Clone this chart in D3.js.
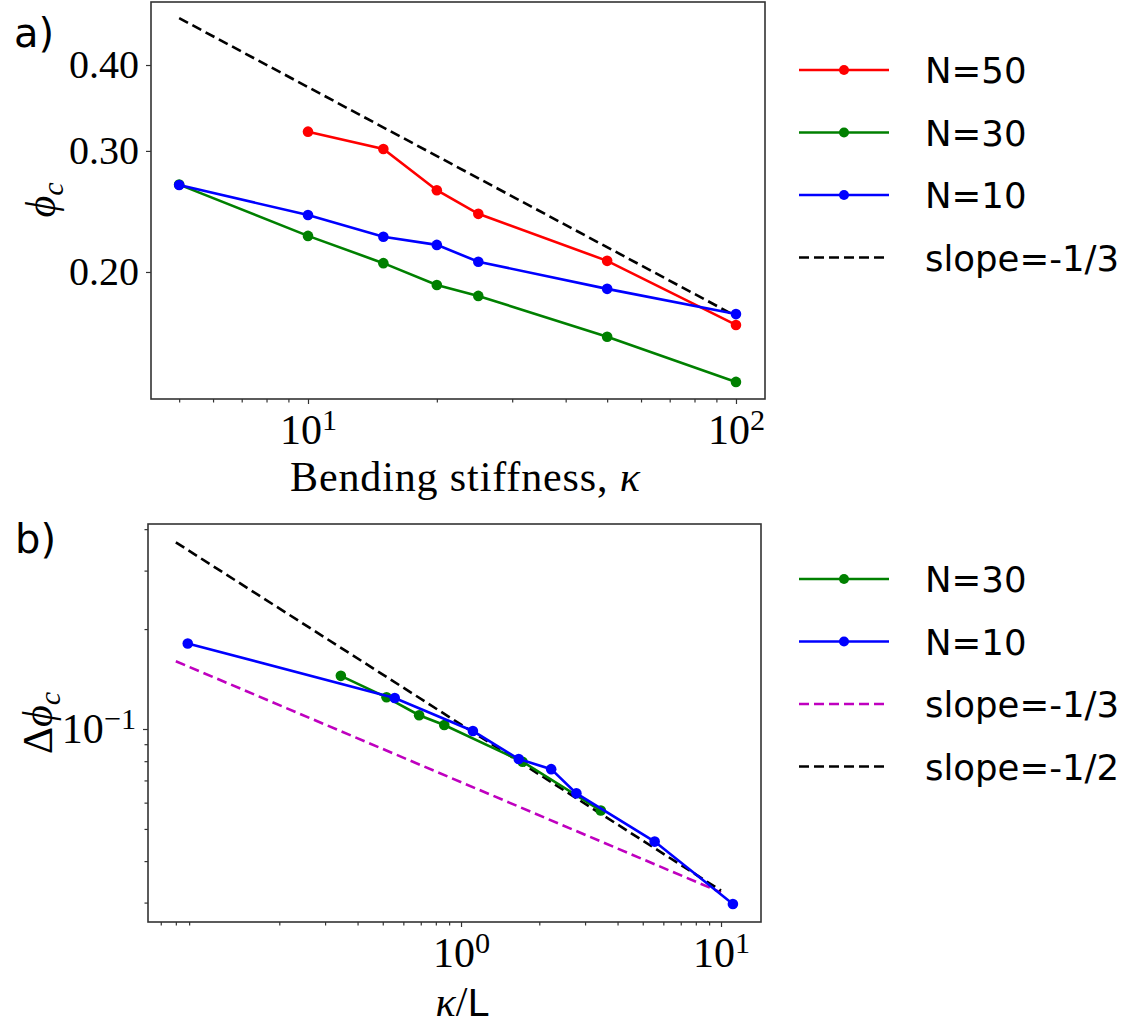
<!DOCTYPE html>
<meta charset="utf-8">
<style>
    body { margin: 0; background: #fff; }
    .tick line { stroke: #333; stroke-width: 1.2; }
    .serif { font-family: "Liberation Serif", serif; }
    .sans { font-family: "DejaVu Sans", sans-serif; }
</style>
<body>
<script src="https://d3js.org/d3.v7.min.js"></script>
<script>

// ---- panel a) data : phi_c vs bending stiffness kappa
var kappa = [5, 10, 15, 20, 25, 50, 100];
var kappaN50 = [10, 15, 20, 25, 50, 100];
var phiN50 = [0.320, 0.302, 0.263, 0.243, 0.2076, 0.1675];
var phiN30 = [0.268, 0.2257, 0.206, 0.1915, 0.1846, 0.161, 0.1384];
var phiN10 = [0.2676, 0.242, 0.225, 0.219, 0.207, 0.189, 0.1737];
var slopeAX = [5, 100];
var slopeAY = [0.468, 0.1725];

// ---- panel b) data : delta phi_c vs kappa/L
var kLN30 = [0.345, 0.517, 0.690, 0.862, 1.724, 3.448];
var dphiN30 = [0.1446, 0.1246, 0.110, 0.1028, 0.0797, 0.0568];
var kLN10 = [0.0889, 0.556, 1.111, 1.667, 2.222, 2.778, 5.556, 11.11];
var dphiN10 = [0.181, 0.124, 0.0986, 0.0812, 0.0757, 0.064, 0.0458, 0.0297];
var slopeThirdX = [0.08, 10];
var slopeThirdY = [0.160, 0.0322];
var slopeHalfX = [0.08, 10];
var slopeHalfY = [0.365, 0.0326];

// ticks
var aXMajor = [10, 100];
var aXMinor = [5, 6, 7, 8, 9, 20, 30, 40, 50, 60, 70, 80, 90];
var aYTicks = [0.2, 0.3, 0.4];
var bXMajor = [1, 10];
var bXMinor = [0.07, 0.08, 0.09, 0.2, 0.3, 0.4, 0.5, 0.6, 0.7, 0.8, 0.9, 2, 3, 4, 5, 6, 7, 8, 9];
var bYMajor = [0.1];
var bYMinor = [0.03, 0.04, 0.05, 0.06, 0.07, 0.08, 0.09, 0.2, 0.3, 0.4];

var svg = d3.select("body").append("svg")
    .attr("width", 1128)
    .attr("height", 1028);

function zip(xs, ys) { return xs.map(function (x, i) { return [x, ys[i]]; }); }

// superscript label 10^n
function powLabel(sel) {
    sel.each(function (d) {
        var t = d3.select(this).text("");
        t.append("tspan").text("10");
        t.append("tspan").attr("dy", "-0.45em").attr("font-size", "0.72em")
            .text(String(Math.round(Math.log10(d))).replace("-", "\u2212"));
    });
}

function frame(g, x, y) {
    g.append("rect")
        .attr("x", x.range()[0]).attr("y", y.range()[1])
        .attr("width", x.range()[1] - x.range()[0])
        .attr("height", y.range()[0] - y.range()[1])
        .attr("fill", "none").attr("stroke", "#333").attr("stroke-width", 1.6);
}

function series(g, x, y, pts, color, marker) {
    var line = d3.line().x(function (d) { return x(d[0]); }).y(function (d) { return y(d[1]); });
    g.append("path").datum(pts)
        .attr("d", line).attr("fill", "none")
        .attr("stroke", color).attr("stroke-width", 2.6);
    if (marker) {
        g.selectAll(null).data(pts).enter().append("circle")
            .attr("cx", function (d) { return x(d[0]); })
            .attr("cy", function (d) { return y(d[1]); })
            .attr("r", 5.3).attr("fill", color);
    }
}

function dashed(g, x, y, pts, color) {
    var line = d3.line().x(function (d) { return x(d[0]); }).y(function (d) { return y(d[1]); });
    g.append("path").datum(pts)
        .attr("d", line).attr("fill", "none")
        .attr("stroke", color).attr("stroke-width", 2.6)
        .attr("stroke-dasharray", "10,5");
}

function legend(g, x0, y0, items) {
    items.forEach(function (it, i) {
        var yy = y0 + i * 62.5;
        var l = g.append("line")
            .attr("x1", x0).attr("x2", x0 + 90).attr("y1", yy).attr("y2", yy)
            .attr("stroke", it.color).attr("stroke-width", 2.6);
        if (it.dash) l.attr("stroke-dasharray", "10,5");
        if (it.marker) g.append("circle").attr("cx", x0 + 45).attr("cy", yy).attr("r", 5).attr("fill", it.color);
        g.append("text").attr("class", "sans")
            .attr("x", x0 + 126).attr("y", yy + 13)
            .attr("font-size", 35.5)
            .text(it.label);
    });
}

// ================= panel a =================
var xa = d3.scaleLog().domain([4.297, 116.9]).range([151, 765]);
var ya = d3.scaleLog().domain([0.1307, 0.494]).range([399, 2]);
var ga = svg.append("g");

ga.append("g").attr("transform", "translate(0,399)")
    .call(d3.axisBottom(xa).tickValues(aXMinor).tickSize(3.5).tickFormat(""))
    .call(function (g) { g.select(".domain").remove(); });
ga.append("g").attr("transform", "translate(0,399)").attr("class", "serif")
    .call(d3.axisBottom(xa).tickValues(aXMajor).tickSize(5).tickPadding(10))
    .call(function (g) { g.select(".domain").remove(); })
    .selectAll(".tick text").attr("font-size", 42).attr("fill", "#000").call(powLabel);

ga.append("g").attr("transform", "translate(151,0)").attr("class", "serif")
    .call(d3.axisLeft(ya).tickValues(aYTicks).tickSize(5).tickPadding(7).tickFormat(d3.format(".2f")))
    .call(function (g) { g.select(".domain").remove(); })
    .selectAll(".tick text").attr("font-size", 40).attr("fill", "#000");

dashed(ga, xa, ya, zip(slopeAX, slopeAY), "#000");
series(ga, xa, ya, zip(kappaN50, phiN50), "#ff0000", true);
series(ga, xa, ya, zip(kappa, phiN30), "#008000", true);
series(ga, xa, ya, zip(kappa, phiN10), "#0000ff", true);
frame(ga, xa, ya);

ga.append("text").attr("class", "serif")
    .attr("x", 465).attr("y", 491).attr("text-anchor", "middle").attr("font-size", 42)
    .attr("textLength", 350).attr("lengthAdjust", "spacing")
    .html('Bending stiffness, <tspan font-style="italic">\u03ba</tspan>');

var yla = ga.append("text").attr("class", "serif")
    .attr("transform", "translate(55,200) rotate(-90)")
    .attr("text-anchor", "middle").attr("font-size", 42);
yla.append("tspan").attr("font-style", "italic").text("\u03d5");
yla.append("tspan").attr("font-style", "italic").attr("font-size", "0.72em").attr("dy", "0.25em").text("c");

ga.append("text").attr("class", "sans").attr("x", 14).attr("y", 47).attr("font-size", 40).text("a)");

legend(ga, 799, 70, [
    { label: "N=50", color: "#ff0000", marker: true },
    { label: "N=30", color: "#008000", marker: true },
    { label: "N=10", color: "#0000ff", marker: true },
    { label: "slope=-1/3", color: "#000", dash: true }
]);

// ================= panel b =================
var xb = d3.scaleLog().domain([0.06252, 14.25]).range([148, 761]);
var yb = d3.scaleLog().domain([0.02622, 0.4145]).range([922, 524]);
var gb = svg.append("g");

gb.append("g").attr("transform", "translate(0,922)")
    .call(d3.axisBottom(xb).tickValues(bXMinor).tickSize(3.5).tickFormat(""))
    .call(function (g) { g.select(".domain").remove(); });
gb.append("g").attr("transform", "translate(0,922)").attr("class", "serif")
    .call(d3.axisBottom(xb).tickValues(bXMajor).tickSize(5).tickPadding(10))
    .call(function (g) { g.select(".domain").remove(); })
    .selectAll(".tick text").attr("font-size", 42).attr("fill", "#000").call(powLabel);

gb.append("g").attr("transform", "translate(148,0)")
    .call(d3.axisLeft(yb).tickValues(bYMinor).tickSize(3.5).tickFormat(""))
    .call(function (g) { g.select(".domain").remove(); });
gb.append("g").attr("transform", "translate(148,0)").attr("class", "serif")
    .call(d3.axisLeft(yb).tickValues(bYMajor).tickSize(5).tickPadding(7))
    .call(function (g) { g.select(".domain").remove(); })
    .selectAll(".tick text").attr("font-size", 42).attr("fill", "#000").call(powLabel);

dashed(gb, xb, yb, zip(slopeThirdX, slopeThirdY), "#bf00bf");
dashed(gb, xb, yb, zip(slopeHalfX, slopeHalfY), "#000");
series(gb, xb, yb, zip(kLN30, dphiN30), "#008000", true);
series(gb, xb, yb, zip(kLN10, dphiN10), "#0000ff", true);
frame(gb, xb, yb);

var xlb = gb.append("text").attr("x", 462).attr("y", 1016).attr("text-anchor", "middle").attr("font-size", 42);
xlb.append("tspan").attr("class", "serif").attr("font-style", "italic").text("\u03ba");
xlb.append("tspan").attr("class", "serif").text("/");
xlb.append("tspan").attr("class", "sans").attr("font-size", 38).text("L");

var ylb = gb.append("text").attr("class", "serif")
    .attr("transform", "translate(52,723) rotate(-90)")
    .attr("text-anchor", "middle").attr("font-size", 42);
ylb.append("tspan").text("\u0394");
ylb.append("tspan").attr("font-style", "italic").text("\u03d5");
ylb.append("tspan").attr("font-style", "italic").attr("font-size", "0.72em").attr("dy", "0.25em").text("c");

gb.append("text").attr("class", "sans").attr("x", 15).attr("y", 553).attr("font-size", 40).text("b)");

legend(gb, 799, 579, [
    { label: "N=30", color: "#008000", marker: true },
    { label: "N=10", color: "#0000ff", marker: true },
    { label: "slope=-1/3", color: "#bf00bf", dash: true },
    { label: "slope=-1/2", color: "#000", dash: true }
]);

</script>
</body>
